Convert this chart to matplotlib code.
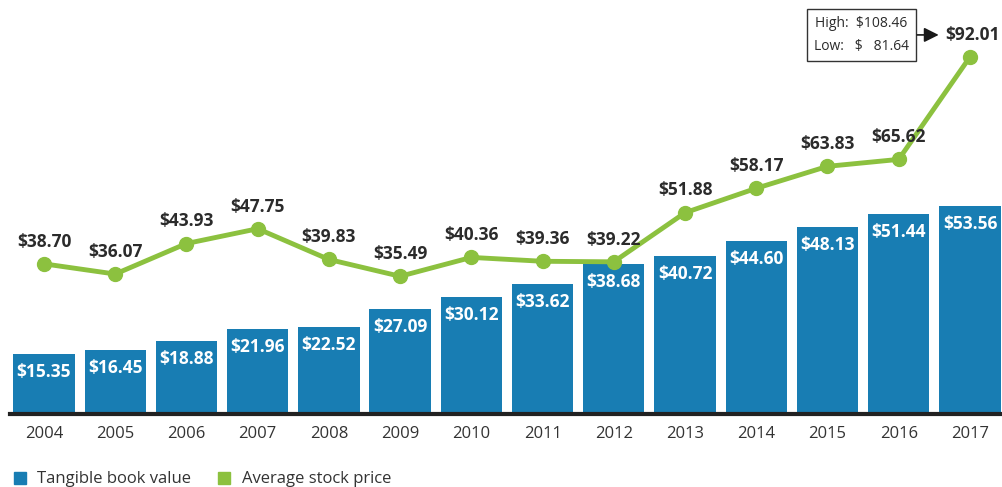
import numpy as np
import matplotlib.pyplot as plt
from matplotlib.patches import Rectangle

plt.rcParams['font.family'] = ['Open Sans', 'DejaVu Sans']

years = ['2004', '2005', '2006', '2007', '2008', '2009', '2010',
         '2011', '2012', '2013', '2014', '2015', '2016', '2017']
book_value = [15.35, 16.45, 18.88, 21.96, 22.52, 27.09, 30.12,
              33.62, 38.68, 40.72, 44.60, 48.13, 51.44, 53.56]
stock_price = [38.70, 36.07, 43.93, 47.75, 39.83, 35.49, 40.36,
               39.36, 39.22, 51.88, 58.17, 63.83, 65.62, 92.01]
high_2017 = 108.46
low_2017 = 81.64

BLUE = '#187db3'
GREEN = '#8cc13f'
TEXT = '#2b2b2b'

fig = plt.figure(figsize=(10.02, 4.87), dpi=100)
ax = fig.add_axes([10 / 1002, 73 / 487, 992 / 1002, 414 / 487])
x = np.arange(len(years))

ax.bar(x, book_value, width=0.86, color=BLUE, zorder=2)
ax.plot(x, stock_price, color=GREEN, lw=3.5, marker='o', ms=10,
        zorder=3, solid_capstyle='round')

for xi, v in zip(x, book_value):
    ax.annotate('$%.2f' % v, (xi, v), xytext=(0, -13), textcoords='offset points',
                ha='center', va='center', color='white', fontsize=12.5,
                fontweight='bold', zorder=4)

for xi, v in zip(x[:-1], stock_price[:-1]):
    ax.annotate('$%.2f' % v, (xi, v), xytext=(0, 16), textcoords='offset points',
                ha='center', va='center', color=TEXT, fontsize=12.5,
                fontweight='bold', zorder=4)

# 2017 label with high/low box and arrow
last = len(years) - 1
ax.annotate('$%.2f' % stock_price[-1], (last, stock_price[-1]), xytext=(2, 16),
            textcoords='offset points', ha='center', va='center', color=TEXT,
            fontsize=12.5, fontweight='bold', zorder=4)
ax.annotate('High:  $%.2f\nLow:   $   %.2f' % (high_2017, low_2017),
            (last, stock_price[-1]), xytext=(-78, 16), textcoords='offset points',
            ha='center', va='center', color=TEXT, fontsize=10, linespacing=1.75,
            bbox=dict(boxstyle='square,pad=0.5', fc='white', ec='#333333', lw=1))
ax.annotate('', xy=(last - 0.40, 97.7), xytext=(last - 0.78, 97.7),
            arrowprops=dict(arrowstyle='-|>', color='#1a1a1a', lw=1.2,
                            mutation_scale=22))

ax.set_xlim(-0.477, 13.45)
ax.set_ylim(0, 106.7)
ax.set_xticks(x)
ax.set_xticklabels(years, fontsize=12, color='#333333')
ax.tick_params(axis='x', length=0, pad=9)
ax.set_yticks([])
for s in ['top', 'right', 'left']:
    ax.spines[s].set_visible(False)
ax.spines['bottom'].set_color('#222222')
ax.spines['bottom'].set_linewidth(3)
ax.spines['bottom'].set_zorder(5)

# legend
fig.patches.append(Rectangle((14 / 1002, 1 - 484 / 487), 12 / 1002, 12 / 487,
                             transform=fig.transFigure, color=BLUE))
fig.text(37 / 1002, 1 - 479 / 487, 'Tangible book value', fontsize=12,
         color='#333333', va='center')
fig.patches.append(Rectangle((218 / 1002, 1 - 484 / 487), 12 / 1002, 12 / 487,
                             transform=fig.transFigure, color=GREEN))
fig.text(242 / 1002, 1 - 479 / 487, 'Average stock price', fontsize=12,
         color='#333333', va='center')

fig.savefig('out.png', dpi=100)
